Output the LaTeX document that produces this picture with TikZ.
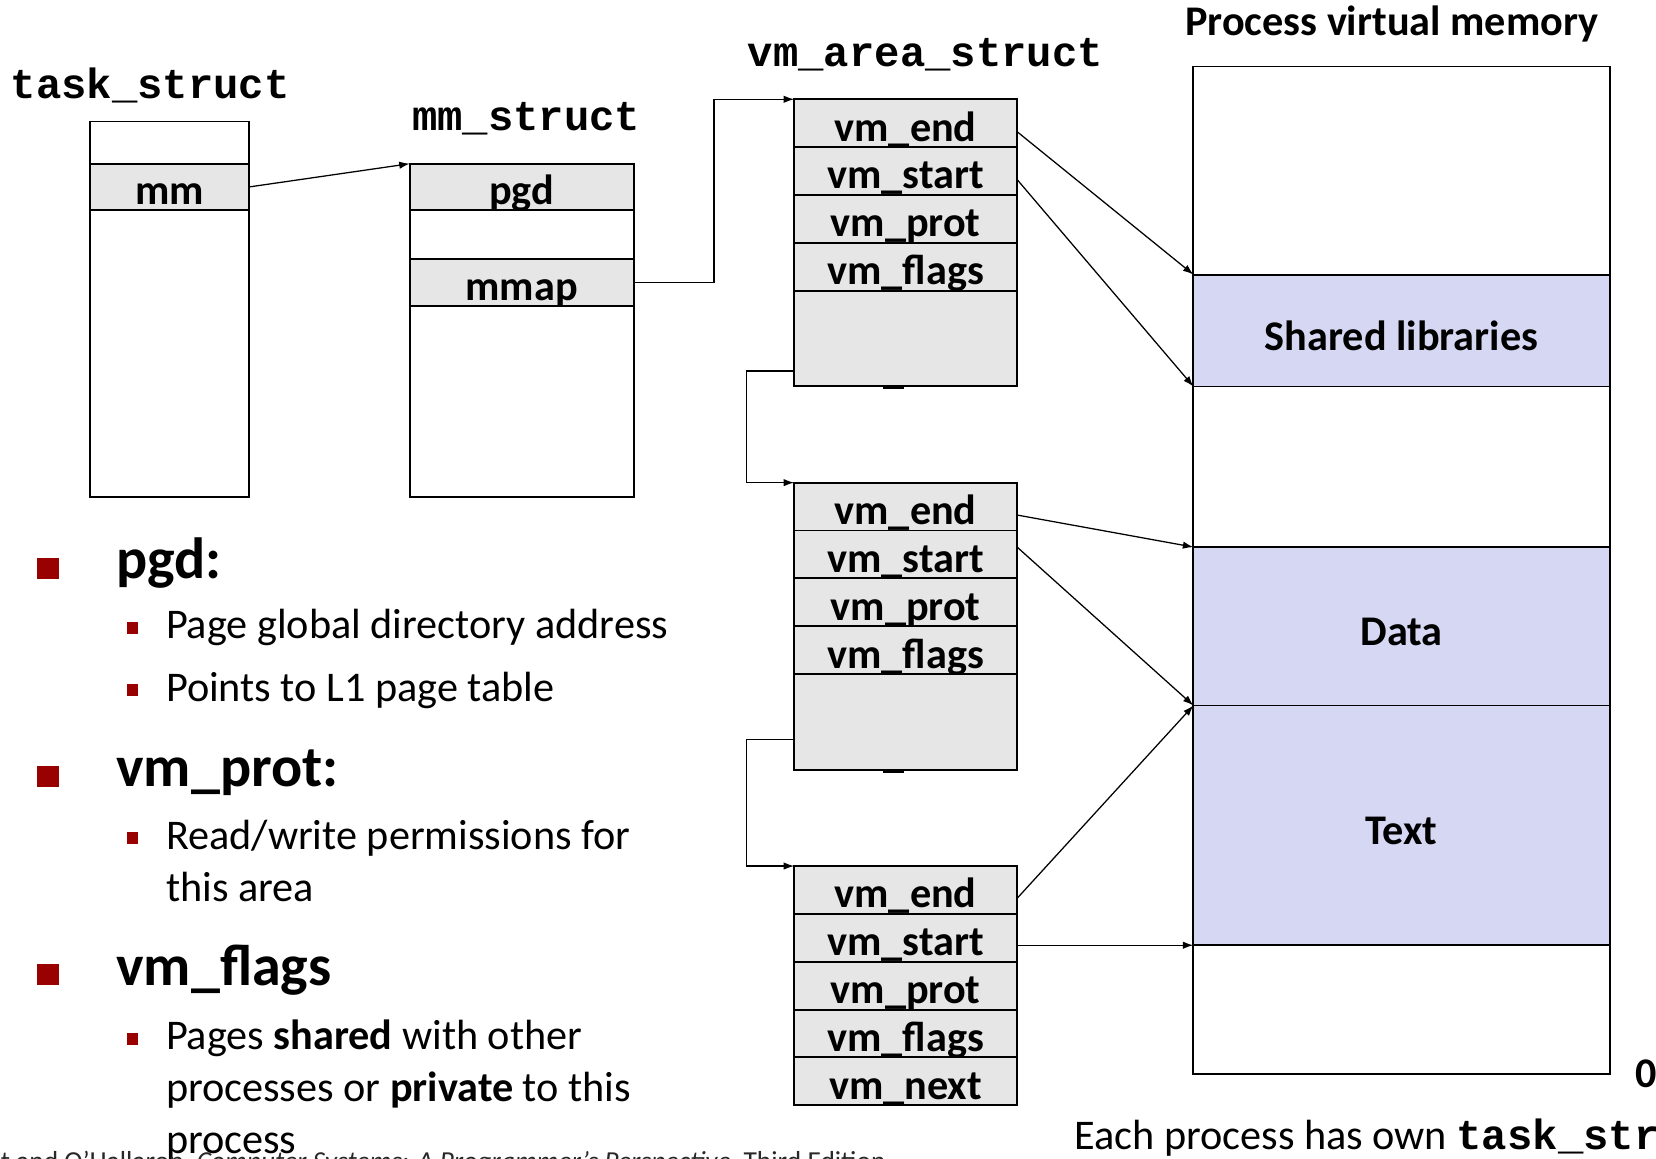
\documentclass[tikz,border=0pt]{standalone}
\usepackage{fontspec}
\setmainfont{Carlito}
\newfontfamily\structfont{Liberation Mono}
\usetikzlibrary{arrows.meta}
\definecolor{cellgray}{RGB}{230,230,230}
\definecolor{regionblue}{RGB}{214,215,243}
\definecolor{bulletred}{RGB}{153,0,0}
\definecolor{footgray}{RGB}{40,40,40}
\newcommand{\vmcellfont}{\fontsize{40}{48}\selectfont\bfseries}
\newcommand{\vmtitlefont}{\fontsize{40}{48}\selectfont\structfont\bfseries}
\newcommand{\vmheadfont}{\fontsize{55}{66}\selectfont\bfseries}
\newcommand{\vmitemfont}{\fontsize{40}{48}\selectfont}
\newcommand{\vmfootfont}{\fontsize{26}{31}\selectfont}

\begin{document}
\begin{tikzpicture}[x=1pt,y=-1pt,
  cell/.style={draw,line width=1.8pt,fill=cellgray,inner sep=0pt,outer sep=0pt,anchor=north,text height=39pt,text depth=5pt,font=\vmcellfont},
  blankcell/.style={fill=white,text height=0pt,text depth=0pt},
  taskcell/.style={cell,minimum width=151pt},
  mmcell/.style={cell,minimum width=212pt},
  vmcell/.style={cell,minimum width=211pt,minimum height=45.3pt},
  regionbox/.style={draw,line width=1.8pt,fill=regionblue,minimum width=394pt,inner sep=0pt,outer sep=0pt,anchor=north,text height=37pt,text depth=0pt,font=\vmcellfont},
  ptr/.style={line width=1.2pt,-{Latex[length=10pt,width=7pt]}},
  structname/.style={anchor=base west,inner sep=0pt,font=\vmtitlefont},
  bigdot/.style={fill=bulletred,minimum size=20pt,inner sep=0pt},
  smalldot/.style={fill=bulletred,minimum size=11pt,inner sep=0pt},
  headtext/.style={anchor=base west,inner sep=0pt,font=\vmheadfont},
  itemtext/.style={anchor=base west,inner sep=0pt,font=\vmitemfont}]
\path[use as bounding box,clip] (0,0) rectangle (1568,1097);

% task_struct and mm_struct
\node[structname] (tasklabel) at (10,93) {task\_struct};
\node[taskcell,blankcell,minimum height=40pt] (task0) at (160.5,115) {};
\node[taskcell,minimum height=44pt] (taskmm) at (task0.south) {mm};
\node[taskcell,blankcell,minimum height=272pt] (task1) at (taskmm.south) {};

\node[structname] (mmlabel) at (390,124) {mm\_struct};
\node[mmcell,minimum height=44pt] (pgd) at (494,155) {pgd};
\node[mmcell,blankcell,minimum height=46pt] (mm0) at (pgd.south) {};
\node[mmcell,minimum height=45pt] (mmap) at (mm0.south) {mmap};
\node[mmcell,blankcell,minimum height=181pt] (mm1) at (mmap.south) {};

% vm_area_struct list
\node[structname] (vmlabel) at (708,63) {vm\_area\_struct};
\foreach \i/\top in {1/94,2/457,3/820}{
  \node[vmcell] (vmend\i) at (857.5,\top) {vm\_end};
  \node[vmcell] (vmstart\i) at (vmend\i.south) {vm\_start};
  \node[vmcell] (vmprot\i) at (vmstart\i.south) {vm\_prot};
  \node[vmcell] (vmflags\i) at (vmprot\i.south) {vm\_flags};
}
\node[vmcell,text height=0pt,text depth=0pt,minimum height=90pt] (vmrest1) at (vmflags1.south) {};
\node[vmcell,text height=0pt,text depth=0pt,minimum height=91pt] (vmrest2) at (vmflags2.south) {};
\node[vmcell] (vmnext3) at (vmflags3.south) {vm\_next};
\draw[line width=2pt] ([xshift=-21pt,yshift=-2pt]vmrest1.south) -- ++(19,0);
\draw[line width=2pt] ([xshift=-21pt,yshift=-2pt]vmrest2.south) -- ++(19,0);

% process virtual memory
\node[anchor=base west,inner sep=0pt,font=\vmcellfont] (pvlabel) at (1122,34) {Process virtual memory};
\node[regionbox,blankcell,minimum height=197pt] (pvtop) at (1327,63) {};
\node[regionbox,minimum height=106pt] (pvlib) at (pvtop.south) {Shared libraries};
\node[regionbox,blankcell,minimum height=152pt] (pvgap) at (pvlib.south) {};
\node[regionbox,minimum height=150pt] (pvdata) at (pvgap.south) {Data};
\node[regionbox,minimum height=227pt] (pvtext) at (pvdata.south) {Text};
\node[regionbox,blankcell,minimum height=122pt] (pvbottom) at (pvtext.south) {};
\node[anchor=base west,inner sep=0pt,font=\vmcellfont] (zero) at (1548,1030) {0};

\draw[ptr] (taskmm.east) -- (pgd.north west);
\draw[ptr] (mmap.east) -- ++(76,0) |- (vmend1.north west);
\draw[ptr] ([yshift=14pt]vmrest1.south west) -- ++(-45,0) |- (vmend2.north west);
\draw[ptr] ([yshift=29pt]vmrest2.south west) -- ++(-45,0) |- (vmend3.north west);
\draw[ptr] ([yshift=-8pt]vmend1.east) -- (pvlib.north west);
\draw[ptr] ([yshift=-8pt]vmstart1.east) -- (pvlib.south west);
\draw[ptr] ([yshift=-8pt]vmend2.east) -- (pvdata.north west);
\draw[ptr] ([yshift=7pt]vmstart2.east) -- (pvdata.south west);
\draw[ptr] ([yshift=-8pt]vmend3.east) -- (pvtext.north west);
\draw[ptr] (vmstart3.east |- pvtext.south west) -- (pvtext.south west);

% bullet list
\node[bigdot] (dotpgd) at (45.5,538) {};
\node[headtext] (pgdhead) at (110,548) {pgd:};
\node[smalldot] (dotpgd1) at (125.5,594.5) {};
\node[itemtext] (pgditem1) at (157,605) {Page global directory address};
\node[smalldot] (dotpgd2) at (125.5,653.5) {};
\node[itemtext] (pgditem2) at (157,664) {Points to L1 page table};
\node[bigdot] (dotprot) at (45.5,735) {};
\node[headtext] (prothead) at (110,745) {vm\_prot:};
\node[smalldot] (dotprot1) at (125.5,793.5) {};
\node[itemtext] (protitem1) at (157,804) {Read/write permissions for};
\node[itemtext] (protitem2) at (157,854) {this area};
\node[bigdot] (dotflags) at (45.5,923) {};
\node[headtext] (flagshead) at (110,933) {vm\_flags};
\node[smalldot] (dotflags1) at (125.5,983.5) {};
\node[itemtext] (flagsitem1) at (157,994) {Pages \textbf{shared} with other};
\node[itemtext] (flagsitem2) at (157,1043) {processes or \textbf{private} to this};
\node[itemtext] (flagsitem3) at (157,1092) {process};

\node[anchor=base west,inner sep=0pt,font=\vmitemfont] (note) at (1017,1088) {Each process has own {\structfont\bfseries task\_struct}};
\node[anchor=base west,inner sep=0pt,font=\vmfootfont,text=footgray] (footer) at (-60,1108) {Bryant and O'Hallaron, \textit{Computer Systems: A Programmer's Perspective}, Third Edition};
\end{tikzpicture}
\end{document}
